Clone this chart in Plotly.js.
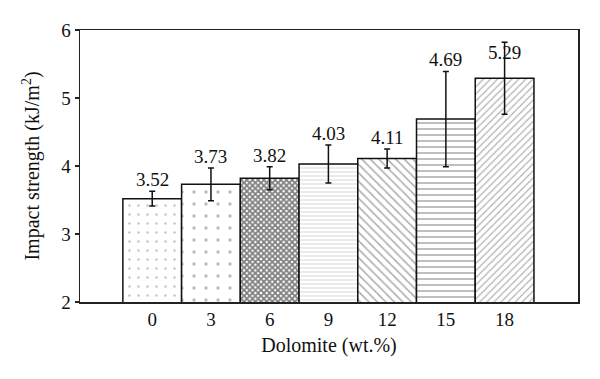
<!DOCTYPE html>
<html>
<head>
<meta charset="utf-8">
<script src="https://cdn.plot.ly/plotly-3.0.1.min.js"></script>
<style>html,body{margin:0;padding:0;background:#fff;}#chart{width:600px;height:379px;}</style>
</head>
<body>
<div id="chart"></div>
<script>
var categories = ['0', '3', '6', '9', '12', '15', '18'];
var impact = [3.52, 3.73, 3.82, 4.03, 4.11, 4.69, 5.29];
var errors = [0.11, 0.24, 0.17, 0.28, 0.14, 0.70, 0.53];
var yTicks = [2, 3, 4, 5, 6];

var idx = categories.map(function (c, i) { return i; });
var FONT = '"Liberation Serif", "Times New Roman", Times, serif';

var patterns = [
  {shape: '.', fgcolor: '#8a8a8a', bgcolor: '#ffffff', size: 9, solidity: 0.06, fillmode: 'overlay'},
  {shape: '.', fgcolor: '#777777', bgcolor: '#ffffff', size: 12, solidity: 0.06, fillmode: 'overlay'},
  {shape: 'x', fgcolor: '#000000', bgcolor: '#ffffff', size: 4, solidity: 0.7, fillmode: 'overlay'},
  {shape: '-', fgcolor: '#bdbdbd', bgcolor: '#ffffff', size: 4, solidity: 0.3, fillmode: 'overlay'},
  {shape: '\\', fgcolor: '#555555', bgcolor: '#ffffff', size: 6, solidity: 0.25, fillmode: 'overlay'},
  {shape: '-', fgcolor: '#555555', bgcolor: '#ffffff', size: 6, solidity: 0.25, fillmode: 'overlay'},
  {shape: '/', fgcolor: '#666666', bgcolor: '#ffffff', size: 5, solidity: 0.25, fillmode: 'overlay'}
];

var traces = idx.map(function (i) {
  return {
    type: 'bar',
    x: [i],
    y: [impact[i]],
    width: 1,
    marker: {color: '#ffffff', line: {color: '#111111', width: 1.5}, pattern: patterns[i]},
    error_y: {type: 'data', array: [errors[i]], visible: true, color: '#111111', thickness: 1.5, width: 3},
    showlegend: false,
    hoverinfo: 'skip'
  };
});

var annotations = idx.map(function (i) {
  return {
    x: i,
    y: Math.min(impact[i] + errors[i], 5.5),
    xref: 'x', yref: 'y',
    text: impact[i].toFixed(2),
    showarrow: false,
    yanchor: 'bottom',
    yshift: -1,
    font: {family: FONT, size: 19, color: '#111'}
  };
});

var layout = {
  width: 600, height: 379,
  margin: {l: 80, r: 22, t: 30, b: 77},
  paper_bgcolor: '#ffffff',
  plot_bgcolor: '#ffffff',
  bargap: 0,
  barmode: 'overlay',
  font: {family: FONT, size: 19, color: '#111'},
  xaxis: {
    range: [-1.23, 7.25],
    tickmode: 'array',
    tickvals: idx,
    ticktext: categories,
    showgrid: false,
    zeroline: false,
    showline: true,
    linecolor: '#222',
    linewidth: 1.5,
    mirror: true,
    ticks: '',
    tickfont: {family: FONT, size: 19},
    title: {text: 'Dolomite (wt.%)', font: {family: FONT, size: 20}, standoff: 8}
  },
  yaxis: {
    range: [2, 6],
    tickmode: 'array',
    tickvals: yTicks,
    showgrid: false,
    zeroline: false,
    showline: true,
    linecolor: '#222',
    linewidth: 1.5,
    mirror: true,
    ticks: 'outside',
    ticklen: 4,
    tickcolor: '#222',
    tickwidth: 1.5,
    tickfont: {family: FONT, size: 19},
    title: {text: 'Impact strength (kJ/m<sup>2</sup>)', font: {family: FONT, size: 20}, standoff: 16}
  },
  annotations: annotations
};

Plotly.newPlot('chart', traces, layout, {displayModeBar: false, staticPlot: true});
</script>
</body>
</html>
